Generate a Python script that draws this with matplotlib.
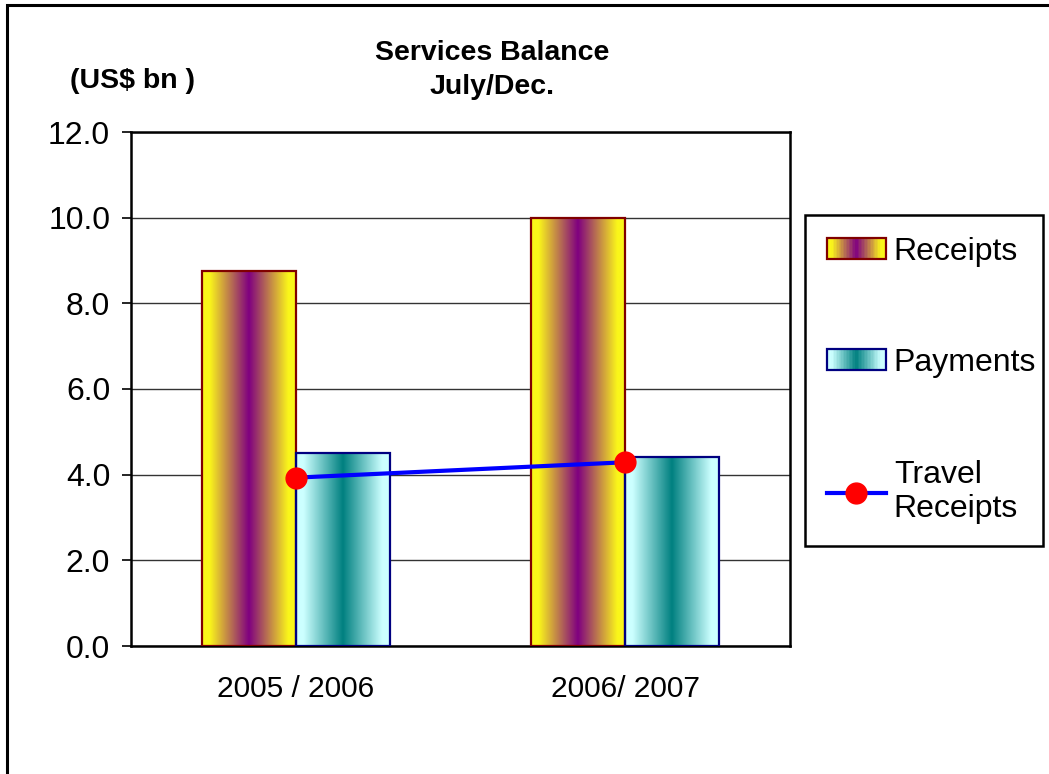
import numpy as np
import matplotlib
matplotlib.use("Agg")
import matplotlib.pyplot as plt
from matplotlib.colors import LinearSegmentedColormap
from matplotlib.patches import Rectangle
from matplotlib.lines import Line2D
from matplotlib.legend_handler import HandlerBase

plt.rcParams['font.family'] = ['Liberation Sans', 'DejaVu Sans']

# data
periods = ["2005 / 2006", "2006/ 2007"]
receipts = [8.75, 10.0]
payments = [4.50, 4.42]
travel_receipts = [3.93, 4.29]

series_names = ["Receipts", "Payments", "Travel\nReceipts"]
yticks = [0, 2, 4, 6, 8, 10, 12]

# gradient colour maps (edge -> centre -> edge)
cmap_rec = LinearSegmentedColormap.from_list(
    "rec", [(0, "#FAF61A"), (0.08, "#FAF61A"), (0.5, "#800080"), (0.92, "#FAF61A"), (1, "#FAF61A")])
cmap_pay = LinearSegmentedColormap.from_list(
    "pay", [(0, "#CCFFFF"), (0.08, "#CCFFFF"), (0.5, "#008080"), (0.92, "#CCFFFF"), (1, "#CCFFFF")])
edge_rec = "#800000"
edge_pay = "#000080"

W, H = 1049, 774
fig = plt.figure(figsize=(W / 100, H / 100), dpi=100)

# outer chart frame (runs off the right and bottom edges)
fig.patches.append(Rectangle((7 / W, -0.1), 1.2, 1 - 5 / H + 0.1, transform=fig.transFigure,
                             fill=False, edgecolor='black', lw=2.2))

ax = fig.add_axes([131 / W, (H - 646) / H, 659 / W, 514 / H])

x = np.arange(len(periods))
bw = 0.285

grad = np.linspace(0, 1, 256).reshape(1, -1)


def gradient_bars(xpos, vals, cmap, edge):
    bars = ax.bar(xpos, vals, bw, facecolor='none', edgecolor=edge, lw=1.6, zorder=3)
    for b in bars:
        x0 = b.get_x()
        im = ax.imshow(grad, cmap=cmap, aspect='auto', interpolation='bilinear',
                       extent=(x0, x0 + b.get_width(), 0, b.get_height()), zorder=2)
        im.set_clip_path(b)
    return bars


gradient_bars(x - bw / 2, receipts, cmap_rec, edge_rec)
gradient_bars(x + bw / 2, payments, cmap_pay, edge_pay)

ax.plot(x, travel_receipts, color='#0000FF', lw=3, marker='o', markersize=15,
        markerfacecolor='#FF0000', markeredgecolor='#FF0000', zorder=5)

ax.set_xlim(-0.5, 1.5)
ax.set_ylim(0, 12)
ax.set_yticks(yticks)
ax.set_yticklabels(["%.1f" % v for v in yticks])
ax.set_xticks(x)
ax.set_xticklabels(periods)
ax.tick_params(axis='y', direction='out', length=6.5, width=1.2, pad=8.5, labelsize=23)
ax.tick_params(axis='x', length=0, pad=21, labelsize=21.5)
ax.yaxis.grid(True, color='#333333', lw=1.0)
ax.set_axisbelow(True)
for s in ax.spines.values():
    s.set_linewidth(1.8)
    s.set_color('black')

# titles
fig.text(492 / W, 1 - 70 / H, "Services Balance\nJuly/Dec.", ha='center', va='center',
         fontsize=20.5, fontweight='bold', linespacing=1.45)
fig.text(70 / W, 1 - 81 / H, "(US$ bn )", ha='left', va='center', fontsize=20.5, fontweight='bold')


class GradientHandler(HandlerBase):
    def __init__(self, cmap, edge):
        super().__init__()
        self.cmap = cmap
        self.edge = edge

    def create_artists(self, legend, orig_handle, xdescent, ydescent, width, height, fontsize, trans):
        n = 40
        arts = []
        for i in range(n):
            r = Rectangle((-xdescent + width * i / n, -ydescent), width / n * 1.3, height,
                          facecolor=self.cmap((i + 0.5) / n), edgecolor='none', transform=trans)
            arts.append(r)
        arts.append(Rectangle((-xdescent, -ydescent), width, height, facecolor='none',
                              edgecolor=self.edge, lw=1.6, transform=trans))
        return arts


h_rec = Rectangle((0, 0), 1, 1)
h_pay = Rectangle((0, 0), 1, 1)
h_trv = Line2D([], [], color='#0000FF', lw=3, marker='o', markersize=15,
               markerfacecolor='#FF0000', markeredgecolor='#FF0000')

leg = fig.legend([h_rec, h_pay, h_trv], series_names, loc='upper left', mode='expand',
                 bbox_to_anchor=(805 / W, 1 - 556 / H, 238 / W, 341 / H), borderaxespad=0,
                 fontsize=23, frameon=True, fancybox=False, edgecolor='black',
                 borderpad=0.68, labelspacing=2.55, handlelength=1.85, handleheight=0.63,
                 handletextpad=0.25,
                 handler_map={h_rec: GradientHandler(cmap_rec, edge_rec),
                              h_pay: GradientHandler(cmap_pay, edge_pay)})
leg.get_frame().set_linewidth(1.8)
leg.get_frame().set_alpha(1)

fig.savefig("out.png", dpi=100)
